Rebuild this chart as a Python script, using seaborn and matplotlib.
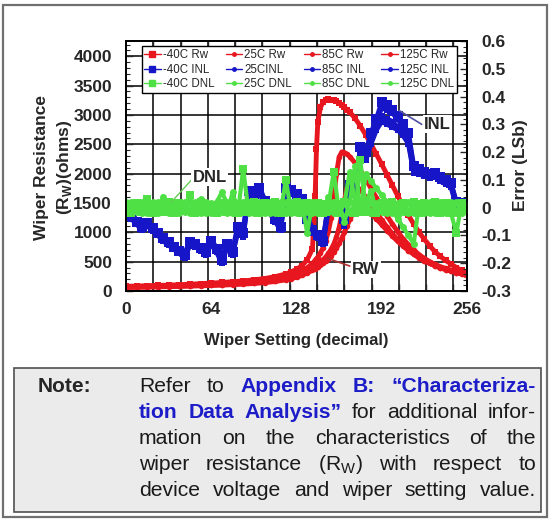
import matplotlib
matplotlib.use("Agg")
import matplotlib.pyplot as plt
import seaborn as sns
from matplotlib.lines import Line2D
from matplotlib.patches import Rectangle
from matplotlib.ticker import MultipleLocator

sns.set_theme(style="white")
plt.rcParams['font.family'] = ['Liberation Sans', 'DejaVu Sans']
plt.rcParams['mathtext.fontset'] = 'custom'
plt.rcParams['mathtext.rm'] = 'Liberation Sans'
plt.rcParams['mathtext.bf'] = 'Liberation Sans:bold'

# ---- data ----
rw_codes = [0, 8, 16, 24, 32, 40, 48, 56, 64, 72, 80, 88, 96, 104, 112, 120,
            124, 128, 132, 136, 140,
            142, 143, 144, 146, 148, 150, 152, 154, 156, 158, 160, 162, 164, 166, 168,
            172, 176, 180, 184, 188, 192, 196, 200, 204, 208, 212, 216, 220, 224, 228,
            232, 236, 240, 244, 248, 252, 255]

rw_m40 = [80, 85, 90, 95, 100, 108, 115, 125, 135, 145, 158, 172, 190, 212, 245, 290,
          325, 370, 430, 530, 720,
          1620, 2420, 2880, 3130, 3220, 3260, 3270, 3260, 3250, 3230, 3200, 3170, 3130, 3090, 3050,
          2940, 2810, 2660, 2500, 2330, 2160, 1980, 1800, 1620, 1450, 1290, 1140, 1000, 880, 770,
          670, 590, 520, 460, 400, 350, 310]
rw_25 = [70, 74, 78, 82, 87, 92, 98, 105, 112, 120, 130, 142, 157, 176, 202, 240,
         266, 298, 340, 395, 470,
         520, 550, 580, 650, 740, 860, 1020, 1250, 1600, 2000, 2280, 2370, 2360, 2330, 2290,
         2180, 2050, 1900, 1750, 1590, 1430, 1280, 1140, 1010, 890, 790, 700, 620, 555, 500,
         455, 415, 385, 355, 330, 305, 290]
rw_85 = [65, 68, 72, 76, 80, 85, 90, 96, 102, 110, 118, 128, 140, 156, 178, 210,
         232, 260, 295, 340, 400,
         430, 445, 460, 495, 535, 580, 640, 710, 800, 920, 1080, 1300, 1550, 1760, 1850,
         1820, 1720, 1600, 1470, 1340, 1210, 1090, 975, 870, 780, 700, 630, 570, 515, 470,
         430, 395, 365, 340, 315, 292, 275]
rw_125 = [60, 63, 66, 70, 74, 78, 83, 88, 94, 100, 108, 117, 128, 142, 162, 190,
          210, 235, 265, 305, 355,
          380, 392, 405, 435, 470, 505, 550, 600, 660, 730, 810, 900, 1000, 1110, 1220,
          1380, 1420, 1390, 1320, 1230, 1130, 1030, 935, 845, 765, 690, 625, 565, 515, 470,
          430, 395, 365, 340, 315, 292, 272]

err_codes = [0, 4, 8, 12, 16, 20, 24, 28, 32, 36, 40, 44, 48, 52, 56, 60,
             64, 68, 72, 76, 80, 84, 88, 92, 96, 100, 104, 108, 112, 116, 120, 124,
             128, 132, 136, 140, 144, 148, 152, 156, 160, 164, 168, 172, 176, 180, 184, 188,
             192, 196, 200, 204, 208, 212, 216, 220, 224, 228, 232, 236, 240, 244, 248, 252,
             255]

inl_m40 = [0.00, -0.03, -0.05, -0.07, -0.055, -0.075, -0.09, -0.11,
           -0.125, -0.14, -0.155, -0.17, -0.125, -0.13, -0.145, -0.16,
           -0.12, -0.15, -0.19, -0.13, -0.16, -0.07, -0.09, 0.06,
           0.05, 0.07, 0.025, -0.01, -0.04, -0.07, 0.07, 0.065,
           0.05, 0.03, -0.04, -0.08, -0.10, -0.12, 0.01, 0.00,
           0.01, -0.04, 0.08, 0.06, 0.22, 0.20, 0.27, 0.32,
           0.38, 0.37, 0.35, 0.33, 0.30, 0.27, 0.15, 0.14,
           0.13, 0.12, 0.125, 0.11, 0.10, 0.09, 0.02, 0.015,
           0.01]
inl_25 = [0.01, -0.02, -0.045, -0.065, -0.05, -0.07, -0.085, -0.105,
          -0.12, -0.135, -0.15, -0.165, -0.12, -0.125, -0.14, -0.155,
          -0.115, -0.145, -0.18, -0.125, -0.155, -0.065, -0.085, 0.065,
          0.055, 0.075, 0.03, -0.005, -0.035, -0.065, 0.075, 0.07,
          0.055, 0.035, -0.035, -0.075, -0.095, -0.115, 0.015, 0.005,
          0.015, -0.035, 0.085, 0.065, 0.21, 0.19, 0.26, 0.31,
          0.36, 0.35, 0.34, 0.32, 0.29, 0.26, 0.14, 0.13,
          0.125, 0.115, 0.12, 0.105, 0.095, 0.085, 0.015, 0.01,
          0.005]
inl_85 = [0.00, -0.035, -0.055, -0.075, -0.06, -0.08, -0.095, -0.115,
          -0.13, -0.145, -0.16, -0.175, -0.13, -0.135, -0.15, -0.165,
          -0.125, -0.155, -0.195, -0.135, -0.165, -0.08, -0.10, 0.05,
          0.04, 0.06, 0.02, -0.015, -0.045, -0.075, 0.06, 0.055,
          0.04, 0.02, -0.045, -0.085, -0.105, -0.125, 0.005, -0.01,
          0.0, -0.06, 0.07, 0.05, 0.19, 0.18, 0.24, 0.29,
          0.33, 0.32, 0.31, 0.29, 0.27, 0.24, 0.13, 0.125,
          0.12, 0.11, 0.115, 0.10, 0.09, 0.08, 0.01, 0.005,
          0.0]
inl_125 = [-0.005, -0.04, -0.06, -0.08, -0.065, -0.085, -0.10, -0.12,
           -0.135, -0.15, -0.165, -0.18, -0.135, -0.14, -0.155, -0.17,
           -0.13, -0.16, -0.2, -0.14, -0.17, -0.085, -0.105, 0.045,
           0.035, 0.055, 0.015, -0.02, -0.05, -0.08, 0.055, 0.05,
           0.035, 0.015, -0.05, -0.09, -0.11, -0.13, 0.0, -0.015,
           -0.005, -0.065, 0.065, 0.045, 0.18, 0.17, 0.23, 0.28,
           0.31, 0.30, 0.29, 0.28, 0.26, 0.23, 0.125, 0.12,
           0.115, 0.105, 0.11, 0.095, 0.085, 0.075, 0.005, 0.0,
           -0.005]

dnl_m40 = [0.01, -0.02, 0.015, -0.015, 0.03, -0.02, 0.01, -0.015,
           0.02, -0.02, 0.015, -0.01, 0.045, -0.02, 0.02, -0.015,
           0.01, -0.02, 0.015, -0.015, 0.015, -0.02, 0.14, -0.015,
           0.02, -0.02, 0.015, -0.015, 0.02, -0.02, 0.10, -0.015,
           0.02, -0.02, 0.015, -0.015, 0.015, -0.02, 0.01, 0.13,
           -0.02, 0.02, -0.015, -0.02, 0.17, -0.015, 0.02, -0.02,
           0.015, -0.015, 0.02, -0.02, 0.015, -0.015, 0.02, -0.02,
           0.015, -0.015, 0.02, -0.02, 0.015, -0.02, -0.09, 0.015,
           -0.01]
dnl_25 = [-0.015, 0.02, -0.01, 0.015, -0.02, 0.015, -0.015, 0.04,
          -0.02, 0.015, -0.015, 0.02, -0.02, 0.015, -0.01, 0.02,
          -0.015, 0.02, 0.055, 0.015, -0.02, 0.015, -0.015, 0.02,
          -0.02, 0.015, -0.015, 0.02, -0.02, 0.015, -0.015, 0.02,
          -0.015, 0.02, -0.09, 0.015, -0.02, 0.015, -0.015, 0.02,
          -0.02, 0.015, 0.13, 0.02, -0.015, 0.02, -0.02, 0.015,
          -0.015, 0.02, -0.02, 0.015, -0.015, 0.02, -0.02, 0.015,
          -0.02, 0.015, -0.015, 0.02, -0.02, 0.015, -0.015, 0.02,
          0.005]
dnl_85 = [0.02, -0.01, 0.015, -0.02, 0.01, -0.015, 0.02, -0.015,
          0.015, -0.02, 0.01, -0.015, 0.02, -0.015, 0.03, -0.02,
          0.015, -0.015, 0.02, -0.02, 0.055, -0.015, 0.02, -0.02,
          0.015, -0.015, 0.02, -0.02, 0.015, -0.015, 0.02, -0.02,
          0.015, -0.015, 0.02, -0.02, 0.015, -0.015, 0.04, -0.02,
          0.015, -0.05, 0.02, 0.15, -0.015, 0.02, 0.06, -0.015,
          0.02, -0.02, 0.015, -0.015, 0.02, -0.02, 0.015, -0.015,
          0.02, -0.02, 0.015, -0.015, 0.02, -0.015, 0.02, -0.02,
          0.01]
dnl_125 = [-0.02, 0.015, -0.015, 0.02, -0.01, 0.02, -0.02, 0.015,
           -0.015, 0.02, -0.02, 0.015, -0.015, 0.02, -0.02, 0.015,
           -0.02, 0.015, -0.015, 0.02, -0.02, 0.015, -0.015, 0.02,
           -0.015, 0.02, -0.02, 0.015, -0.015, 0.02, -0.02, 0.015,
           -0.02, 0.015, -0.015, 0.02, -0.02, 0.015, -0.015, 0.02,
           -0.015, 0.02, -0.02, 0.015, -0.015, 0.12, 0.095, 0.07,
           0.045, 0.02, -0.01, -0.04, -0.07, -0.10, -0.13, 0.015,
           -0.015, 0.02, -0.02, 0.015, -0.015, 0.02, -0.02, 0.015,
           -0.005]

temps = ["-40C", "25C", "85C", "125C"]
rw_series = [rw_m40, rw_25, rw_85, rw_125]
inl_series = [inl_m40, inl_25, inl_85, inl_125]
dnl_series = [dnl_m40, dnl_25, dnl_85, dnl_125]

RED, BLUE, GREEN = "#e8161e", "#1616c8", "#4fe045"

W, H = 551, 520
fig = plt.figure(figsize=(W / 100, H / 100), dpi=100)
fig.patch.set_facecolor("white")

ax = fig.add_axes([126 / W, 1 - 291 / H, (467 - 126) / W, (291 - 41) / H])
ax2 = ax.twinx()

for i, vals in enumerate(rw_series):
    sns.lineplot(x=rw_codes, y=vals, ax=ax, color=RED, linewidth=3.5,
                 marker="s" if i == 0 else "o", markersize=4.5 if i == 0 else 4,
                 markeredgewidth=0, sort=False)
for i, vals in enumerate(inl_series):
    sns.lineplot(x=err_codes, y=vals, ax=ax2, color=BLUE, linewidth=3.5,
                 marker="s", markersize=6.5 if i == 0 else 5,
                 markeredgewidth=0, sort=False)
for i, vals in enumerate(dnl_series):
    sns.lineplot(x=err_codes, y=vals, ax=ax2, color=GREEN, linewidth=3,
                 marker="s" if i == 0 else "o", markersize=6 if i == 0 else 5,
                 markeredgewidth=0, sort=False)

ax.set_xlim(0, 256)
ax.set_ylim(0, 4260)
ax2.set_ylim(-0.3, 0.6)

ax.set_xticks([0, 64, 128, 192, 256])
ax.xaxis.set_minor_locator(MultipleLocator(20.48))
ax.set_yticks(range(0, 4001, 500))
ax.yaxis.set_minor_locator(MultipleLocator(100))
ax2.yaxis.set_minor_locator(MultipleLocator(0.02))
ax2.set_yticks([-0.3, -0.2, -0.1, 0, 0.1, 0.2, 0.3, 0.4, 0.5, 0.6])
ax2.set_yticklabels(["-0.3", "-0.2", "-0.1", "0", "0.1", "0.2", "0.3", "0.4", "0.5", "0.6"])

ax.grid(False)
ax2.grid(False)
ax.grid(True, which="minor", axis="x", color="black", linewidth=1.1)
ax.grid(True, which="major", axis="y", color="black", linewidth=1.1)

for a in (ax, ax2):
    for lab in a.get_xticklabels() + a.get_yticklabels():
        lab.set_fontsize(12.5)
        lab.set_fontweight("bold")
ax.tick_params(axis="x", which="major", length=0, pad=8)
ax.tick_params(axis="x", which="minor", direction="in", length=5, top=True, bottom=True, width=1)
ax.tick_params(axis="y", which="major", direction="in", length=5, pad=10, width=1)
ax.tick_params(axis="y", which="minor", direction="in", length=3, width=0.8)
ax2.tick_params(axis="y", which="major", direction="in", length=5, pad=10, width=1)
ax2.tick_params(axis="y", which="minor", direction="in", length=3, width=0.8)
for a in (ax, ax2):
    for s in a.spines.values():
        s.set_color("black")
        s.set_linewidth(1.3)
ax.set_xlabel("")
ax.set_ylabel("")
ax2.set_ylabel("")

# annotations
ax2.plot([49, 34], [0.099, 0.02], color="#66cc55", linewidth=1)
ax2.text(63, 0.11, "DNL", ha="center", va="center", fontsize=12, fontweight="bold",
         bbox=dict(facecolor="white", edgecolor="none", pad=1))
ax2.plot([222, 205], [0.30, 0.35], color="#5050a0", linewidth=1.2)
ax2.text(234, 0.30, "INL", ha="center", va="center", fontsize=12, fontweight="bold",
         bbox=dict(facecolor="white", edgecolor="none", pad=1))
ax2.plot([168, 151], [425, 560], color="#b03030", linewidth=1.2, transform=ax.transData)
ax2.text(180, 369, "RW", ha="center", va="center", fontsize=12, fontweight="bold",
         transform=ax.transData, bbox=dict(facecolor="white", edgecolor="none", pad=1))

# legend (column-major order so that rows are Rw / INL / DNL)
handles, labels = [], []
for i, t in enumerate(temps):
    for col, name in ((RED, "Rw"), (BLUE, "INL"), (GREEN, "DNL")):
        handles.append(Line2D([], [], color=col, linewidth=1,
                              marker="s" if i == 0 else "o",
                              markersize=5 if i == 0 else 2.5))
        labels.append(f"{t} {name}" if not (t == "25C" and name == "INL") else "25CINL")
leg = ax2.legend(handles, labels, ncol=4, loc="upper center", bbox_to_anchor=(0.508, 0.978),
                 fontsize=8.3, frameon=True, fancybox=False, edgecolor="black",
                 framealpha=1, handlelength=1.4, handletextpad=0.2, columnspacing=1.0,
                 borderpad=0.25, labelspacing=0.2, borderaxespad=0)
leg.get_frame().set_linewidth(1)

# axis titles
fig.text(42 / W, 1 - 167 / H, "Wiper Resistance", rotation=90, ha="center", va="center",
         fontsize=12.5, fontweight="bold")
fig.text(64 / W, 1 - 167 / H, r"(R$_\mathregular{W}$)(ohms)", rotation=90, ha="center",
         va="center", fontsize=12.5, fontweight="bold")
fig.text(521 / W, 1 - 165 / H, "Error (LSb)", rotation=90, ha="center", va="center",
         fontsize=12.5, fontweight="bold")
fig.text(296 / W, 1 - 341 / H, "Wiper Setting (decimal)", ha="center", va="center",
         fontsize=12, fontweight="bold")

# frames
fig.patches.append(Rectangle((3 / W, 1 - 517 / H), 544 / W, 512 / H, transform=fig.transFigure,
                             fill=False, edgecolor="#707070", linewidth=1.6))
fig.patches.append(Rectangle((14 / W, 1 - 512 / H), 527 / W, 144 / H, transform=fig.transFigure,
                             facecolor="#ebebeb", edgecolor="#505050", linewidth=1.2))

# note text, justified
renderer = fig.canvas.get_renderer()
LINK = "#1c1cc8"
fig.text(38 / W, 1 - 392 / H, "Note:", fontsize=15, fontweight="bold", va="baseline")


def put_line(words, base_y, x0=139, x1=536):
    objs = [fig.text(0, 0, t, fontsize=15.2, fontweight=w, color=c, va="baseline", ha="left")
            for t, w, c in words]
    widths = [o.get_window_extent(renderer).width for o in objs]
    gap = (x1 - x0 - sum(widths)) / (len(objs) - 1)
    x = x0
    for o, wd in zip(objs, widths):
        o.set_position((x / W, 1 - base_y / H))
        x += wd + gap


N, B = "normal", "bold"
K = "#1a1a1a"
put_line([("Refer", N, K), ("to", N, K), ("Appendix", B, LINK), ("B:", B, LINK),
          ("\u201cCharacteriza-", B, LINK)], 392)
put_line([("tion", B, LINK), ("Data", B, LINK), ("Analysis\u201d", B, LINK), ("for", N, K),
          ("additional", N, K), ("infor-", N, K)], 418)
put_line([(w, N, K) for w in "mation on the characteristics of the".split()], 444)
put_line([(w, N, K) for w in ["wiper", "resistance", r"(R$_\mathregular{W}$)", "with",
                              "respect", "to"]], 470)
put_line([(w, N, K) for w in "device voltage and wiper setting value.".split()], 496)

fig.savefig("out.png", dpi=100, facecolor="white")
